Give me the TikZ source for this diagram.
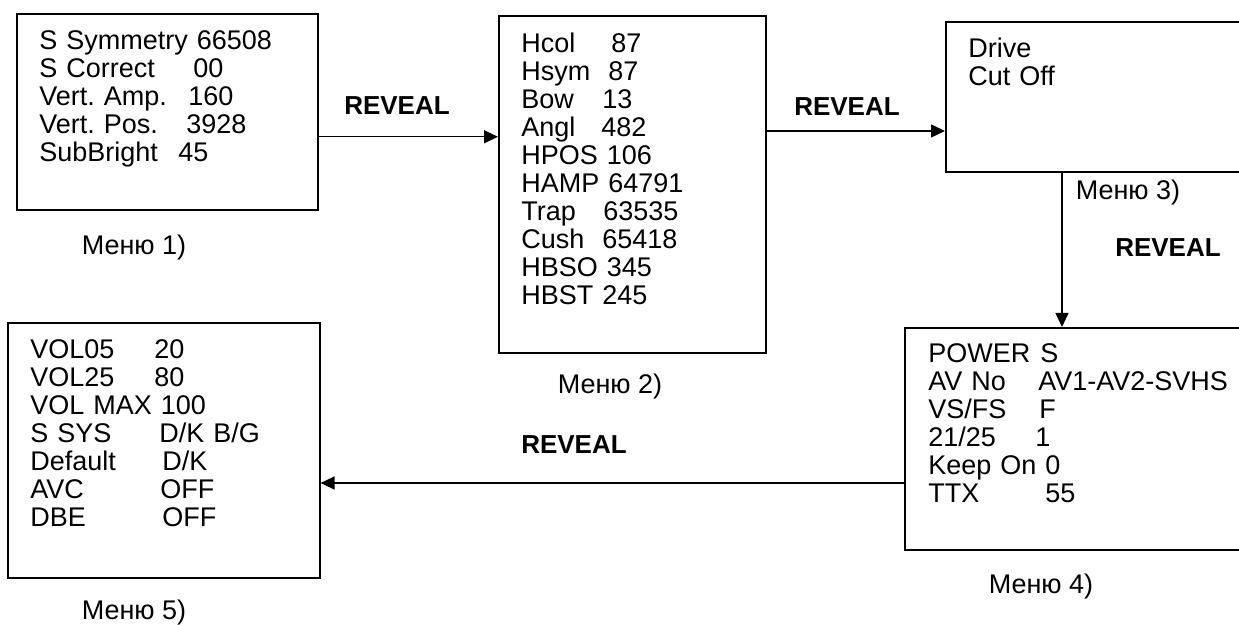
\documentclass[tikz,border=0pt]{standalone}
\usepackage{fontspec}
\setmainfont{Liberation Sans}
\usetikzlibrary{positioning,arrows.meta}
\newcommand{\padto}[2]{\makebox[#1pt][l]{#2}}

\begin{document}
\begin{tikzpicture}[x=0.5pt,y=-0.5pt,
  menubox/.style={draw, line width=0.8pt, anchor=north west, inner sep=0pt},
  menutext/.style={anchor=base west, inner sep=0pt, text width=150pt, align=left, font=\fontsize{13.5}{14}\selectfont\frenchspacing},
  caption/.style={inner sep=0pt, font=\fontsize{13.5}{14}\selectfont},
  reveal/.style={inner sep=0pt, font=\bfseries\fontsize{13}{14}\selectfont},
  link/.style={-{Triangle[length=7pt,width=6.5pt]}, line width=0.7pt}]
\useasboundingbox (0,0) rectangle (1239,625);
\clip (0,0) rectangle (1239,625);

% menu frames
\node[menubox, minimum width=150.5pt, minimum height=98pt] (menu1) at (16,13) {};
\node[menubox, minimum width=133.5pt, minimum height=168.5pt] (menu2) at (498,15) {};
\node[menubox, minimum width=152pt, minimum height=75pt] (menu3) at (945,21) {};
\node[menubox, minimum width=172pt, minimum height=111pt] (menu4) at (904,327) {};
\node[menubox, minimum width=156pt, minimum height=127.5pt] (menu5) at (7,322) {};

% menu entries
\node[menutext] (list1) at (39,49.5) {S Symmetry 66508\\ \padto{77}{S Correct}00\\ \padto{74.5}{Vert. Amp.}160\\ \padto{73.5}{Vert. Pos.}3928\\ \padto{69.5}{SubBright}45};
\node[menutext] (list2) at (521,52.5) {\padto{45}{Hcol}87\\ \padto{43.5}{Hsym}87\\ \padto{40.5}{Bow}13\\ \padto{40}{Angl}482\\ HPOS 106\\ HAMP 64791\\ \padto{41}{Trap}63535\\ \padto{40.5}{Cush}65418\\ HBSO 345\\ HBST 245};
\node[menutext] (list3) at (968,57.5) {Drive\\ Cut Off};
\node[menutext] (list4) at (928,362.5) {\padto{56}{POWER}S\\ \padto{55}{AV No}AV1-AV2-SVHS\\ \padto{55.5}{VS/FS}F\\ \padto{53.5}{21/25}1\\ Keep On 0\\ \padto{58.5}{TTX}55};
\node[menutext] (list5) at (30,358.5) {\padto{62}{VOL05}20\\ \padto{62}{VOL25}80\\ VOL MAX 100\\ \padto{64.5}{S SYS}D/K B/G\\ \padto{66}{Default}D/K\\ \padto{65}{AVC}OFF\\ \padto{66}{DBE}OFF};

% captions
\foreach \n/\x/\y in {1/134/248, 2/610/387, 3/1128/193, 4/1041/587, 5/134/613}
  \node[caption] (cap\n) at (\x,\y) {Меню \n)};
\foreach \n/\x/\y in {1/397/106, 2/847/107, 3/1168/248, 4/574/445}
  \node[reveal] (rev\n) at (\x,\y) {REVEAL};

% transitions
\coordinate (a1) at ([yshift=-12.5pt]menu1.east);
\draw[link] (a1) -- (a1 -| menu2.west);
\coordinate (a2) at ([yshift=-58pt]menu2.north east);
\draw[link] (a2) -- (a2 -| menu3.west);
\coordinate (a3) at ([xshift=58.5pt]menu3.south west);
\draw[link] (a3) -- (a3 |- menu4.north);
\coordinate (a4) at ([yshift=-78pt]menu4.north west);
\draw[link] (a4) -- (a4 -| menu5.east);
\end{tikzpicture}
\end{document}
